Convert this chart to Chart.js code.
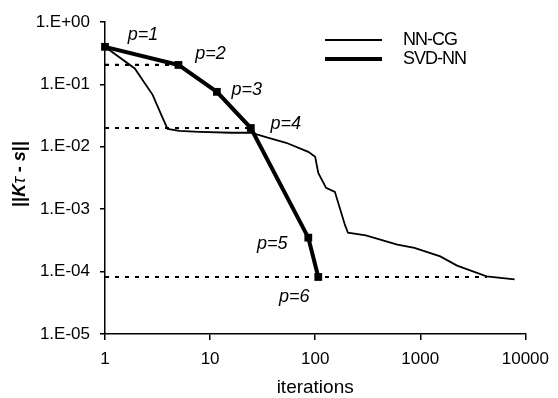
<!DOCTYPE html>
<html>
<head>
<meta charset="utf-8">
<script src="https://cdn.jsdelivr.net/npm/chart.js@4"></script>
<style>
  html, body { margin: 0; padding: 0; background: #fff; }
  #wrap { width: 558px; height: 398px; position: relative; }
</style>
</head>
<body>
<div id="wrap"><canvas id="chart"></canvas></div>
<script>
'use strict';

// ─── Data ─────────────────────────────────────────────────────────────────────

const xTicks = [1, 10, 100, 1000, 10000];
const yTicks = [1, 1e-1, 1e-2, 1e-3, 1e-4, 1e-5];

const nncgIter = [1, 1.92, 2.84, 3.45, 3.94, 5.1, 7.9, 16, 24.4, 36, 53, 86, 100, 107, 127, 154, 192, 205, 303, 605, 880, 1550, 2240, 4280, 7900];
const nncgRes = [0.40, 0.18, 0.068, 0.032, 0.0194, 0.018, 0.0174, 0.0168, 0.0168, 0.0139, 0.0116, 0.0083, 0.0069, 0.0038, 0.0022, 0.0019, 5.6e-4, 4.2e-4, 3.8e-4, 2.7e-4, 2.4e-4, 1.75e-4, 1.25e-4, 8.4e-5, 7.5e-5];

const svdIter = [1, 5, 11.6, 24.4, 86, 107];
const svdRes = [0.40, 0.205, 0.076, 0.020, 3.5e-4, 8.2e-5];
const svdLabels = ['p=1', 'p=2', 'p=3', 'p=4', 'p=5', 'p=6'];

// horizontal dotted guides: level and where they stop
const guideLevels = [0.205, 0.020, 8.2e-5];
const guideEnds = [5, 24.4, 4300];

const seriesNames = ['NN-CG', 'SVD-NN'];

// ─── Helpers ──────────────────────────────────────────────────────────────────

const FONT = "'Liberation Sans', Arial, sans-serif";

function fmtExp(v) {
  const e = Math.round(Math.log10(v));
  return `1.E${e >= 0 ? '+' : '-'}${String(Math.abs(e)).padStart(2, '0')}`;
}

const toPts = (xs, ys) => xs.map((x, i) => ({ x, y: ys[i] }));

// label offsets from each p marker, px
const labelOffsets = [[38, -12], [32, -11], [30, -2], [35, -4], [-36, 6], [-24, 20]];

const annotations = {
  id: 'annotations',
  afterDatasetsDraw(chart) {
    const { ctx, scales: { x, y } } = chart;
    ctx.save();
    ctx.fillStyle = '#000';
    ctx.textAlign = 'center';
    ctx.textBaseline = 'middle';
    ctx.font = `italic 18px ${FONT}`;
    svdLabels.forEach((lab, i) => {
      const px = x.getPixelForValue(svdIter[i]) + labelOffsets[i][0];
      const py = y.getPixelForValue(svdRes[i]) + labelOffsets[i][1];
      ctx.fillText(lab, px, py);
    });

    // legend
    ctx.strokeStyle = '#000';
    ctx.lineCap = 'butt';
    [[1.8, 40], [4, 59]].forEach(([w, ly], i) => {
      ctx.lineWidth = w;
      ctx.beginPath();
      ctx.moveTo(325, ly);
      ctx.lineTo(382, ly);
      ctx.stroke();
      ctx.textAlign = 'left';
      ctx.font = `18px ${FONT}`;
      if ('letterSpacing' in ctx) ctx.letterSpacing = '-1px';
      ctx.fillText(seriesNames[i], 403, ly);
      if ('letterSpacing' in ctx) ctx.letterSpacing = '0px';
    });

    // x title
    ctx.textAlign = 'center';
    ctx.font = `19px ${FONT}`;
    ctx.fillText('iterations', (chart.chartArea.left + chart.chartArea.right) / 2, 388);

    // y title with mixed styles
    const parts = [
      ['||', `bold 18px ${FONT}`],
      ['K', `bold italic 18px ${FONT}`],
      ['τ', `italic 18px ${FONT}`],
      [' - ', `bold 18px ${FONT}`],
      ['s', `bold italic 18px ${FONT}`],
      ['||', `bold 18px ${FONT}`],
    ];
    const widths = parts.map(([t, f]) => { ctx.font = f; return ctx.measureText(t).width; });
    const total = widths.reduce((a, b) => a + b, 0);
    ctx.translate(20, (chart.chartArea.top + chart.chartArea.bottom) / 2 - 4);
    ctx.rotate(-Math.PI / 2);
    ctx.textAlign = 'left';
    let cx = -total / 2;
    parts.forEach(([t, f], i) => {
      ctx.font = f;
      ctx.fillText(t, cx, 0);
      cx += widths[i];
    });
    ctx.restore();
  }
};

// ─── Chart ────────────────────────────────────────────────────────────────────

const guideSets = guideLevels.map((lv, i) => ({
  data: [{ x: 1, y: lv }, { x: guideEnds[i], y: lv }],
  borderColor: '#000',
  borderWidth: 2.2,
  borderDash: [4, 6],
  pointRadius: 0,
  tension: 0,
}));

new Chart(document.getElementById('chart'), {
  type: 'line',
  data: {
    datasets: [
      ...guideSets,
      {
        label: seriesNames[0],
        data: toPts(nncgIter, nncgRes),
        borderColor: '#000',
        borderWidth: 1.8,
        pointRadius: 0,
        tension: 0,
      },
      {
        label: seriesNames[1],
        data: toPts(svdIter, svdRes),
        borderColor: '#000',
        backgroundColor: '#000',
        borderWidth: 4,
        pointStyle: 'rect',
        pointRadius: 5.5,
        pointBorderWidth: 0,
        tension: 0,
        clip: false,
      },
    ],
  },
  options: {
    responsive: true,
    maintainAspectRatio: false,
    animation: false,
    parsing: false,
    layout: { padding: { top: 22, right: 29, left: 0, bottom: 0 } },
    plugins: {
      legend: { display: false },
      tooltip: { enabled: false },
    },
    scales: {
      x: {
        type: 'logarithmic',
        min: 1,
        max: 10000,
        afterFit: (s) => { s.height = 64; },
        afterBuildTicks: (s) => { s.ticks = xTicks.map(v => ({ value: v })); },
        grid: { display: true, drawOnChartArea: false, drawTicks: true, tickLength: 6, color: '#000', lineWidth: 1.5 },
        border: { display: true, color: '#000', width: 1.5 },
        ticks: {
          color: '#000',
          font: { family: FONT, size: 17 },
          padding: 9,
          autoSkip: false,
          maxRotation: 0,
          callback: (v) => String(v),
        },
      },
      y: {
        type: 'logarithmic',
        min: 1e-5,
        max: 1,
        afterFit: (s) => { s.width = 105; },
        afterBuildTicks: (s) => { s.ticks = yTicks.map(v => ({ value: v })); },
        grid: { display: true, drawOnChartArea: false, drawTicks: true, tickLength: 5, color: '#000', lineWidth: 1.5 },
        border: { display: true, color: '#000', width: 1.5 },
        ticks: {
          color: '#000',
          font: { family: FONT, size: 17 },
          padding: 10,
          autoSkip: false,
          callback: (v) => fmtExp(v),
        },
      },
    },
  },
  plugins: [annotations],
});
</script>
</body>
</html>
